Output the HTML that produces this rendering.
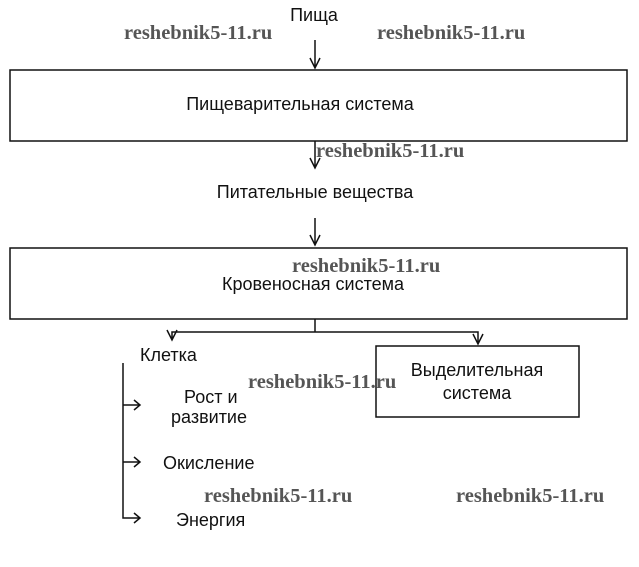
<!DOCTYPE html>
<html><head><meta charset="utf-8"><style>
html,body{margin:0;padding:0;background:#fff;}
svg{display:block;}
.t{font-family:"Liberation Sans",sans-serif;font-size:18px;fill:#111;}
.w{font-family:"Liberation Serif",serif;font-size:20.5px;font-weight:bold;fill:#555;}
</style></head><body>
<svg width="639" height="567" viewBox="0 0 639 567" xmlns="http://www.w3.org/2000/svg">
<g stroke="#111" stroke-width="1.5" fill="none">
<rect x="10" y="70" width="617" height="71"/>
<rect x="10" y="248" width="617" height="71"/>
<rect x="376" y="346" width="203" height="71"/>
<path d="M315 40V68M310 58L315 68L320 58"/>
<path d="M315 141V168M310 158L315 168L320 158"/>
<path d="M315 218V245M310 235L315 245L320 235"/>
<path d="M315 319V332M172 340V332H478V344M167 330L172 340L177 330M473 334L478 344L483 334"/>
<path d="M123 363V518H140M123 405H140M123 462H140M134 400L140 405L134 410M134 457L140 462L134 467M134 513L140 518L134 523"/>
</g>
<text class="t" x="314" y="21" text-anchor="middle">Пища</text>
<text class="t" x="300" y="110" text-anchor="middle">Пищеварительная система</text>
<text class="t" x="315" y="198" text-anchor="middle">Питательные вещества</text>
<text class="t" x="313" y="290" text-anchor="middle">Кровеносная система</text>
<text class="t" x="140" y="361">Клетка</text>
<text class="t" x="477" y="376" text-anchor="middle">Выделительная</text>
<text class="t" x="477" y="399" text-anchor="middle">система</text>
<text class="t" x="184" y="403">Рост и</text>
<text class="t" x="171" y="423">развитие</text>
<text class="t" x="163" y="469">Окисление</text>
<text class="t" x="176" y="526">Энергия</text>
<text class="w" x="124" y="39">reshebnik5-11.ru</text>
<text class="w" x="377" y="39">reshebnik5-11.ru</text>
<text class="w" x="316" y="157">reshebnik5-11.ru</text>
<text class="w" x="292" y="272">reshebnik5-11.ru</text>
<text class="w" x="248" y="388">reshebnik5-11.ru</text>
<text class="w" x="204" y="502">reshebnik5-11.ru</text>
<text class="w" x="456" y="502">reshebnik5-11.ru</text>
</svg>
</body></html>
